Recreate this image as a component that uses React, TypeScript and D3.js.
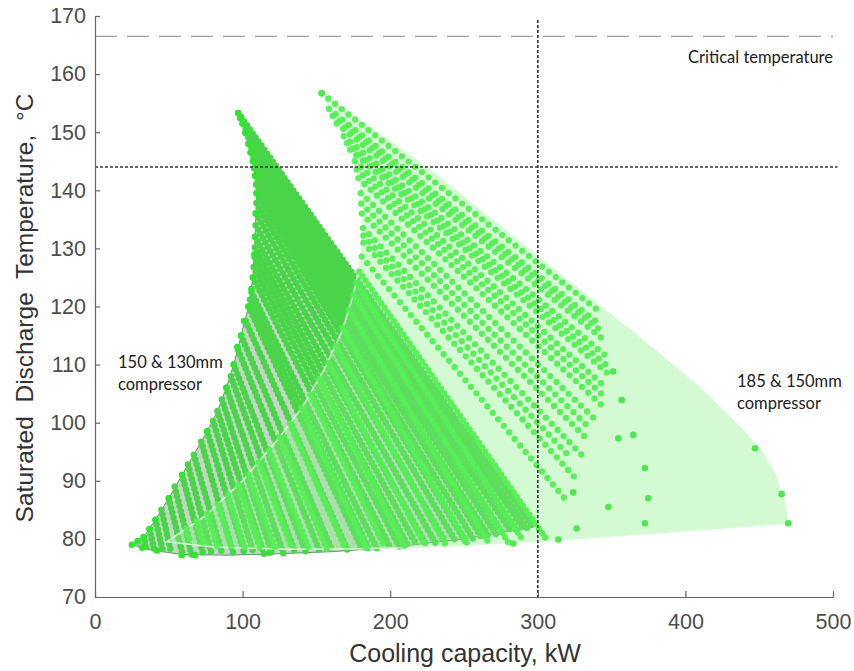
import React, { useEffect, useRef } from 'react';
import * as d3 from 'd3';

type P = [number, number];
type Seg = [number, number, number, number];

// axis ticks
const xTicks = [0, 100, 200, 300, 400, 500];
const yTicks = [70, 80, 90, 100, 110, 120, 130, 140, 150, 160, 170];

// reference lines
const criticalTemp = 166.5;
const limitTemp = 144;
const limitCapacity = 300;

// 150 & 130mm compressor envelope (capacity kW, discharge temp C)
const envelopeA: P[] = [
  [25, 79], [33, 80.3], [41, 83.3], [50, 87], [59, 91], [67, 94.5], [76, 98.5], [83, 102],
  [89, 106], [94, 110], [99, 115], [104, 120], [107, 125], [108.5, 132], [109.5, 139.5],
  [108, 144], [104, 148], [100, 151.5], [97, 153.3],
  [135, 139.8], [174, 126], [215, 111.2], [255, 97], [297, 82],
  [250, 80], [200, 78.5], [160, 77.8], [120, 77.4], [90, 77.2], [60, 77.3], [40, 78],
];

// 185 & 150mm compressor envelope
const envelopeB: P[] = [
  [48.6, 79.5], [75, 84], [100, 90], [125, 97.5], [140, 102.5], [155, 109], [167, 115.5],
  [175, 122], [180, 128], [181.5, 135], [180.7, 140], [178, 143], [172.8, 147], [163.7, 151.5],
  [153.6, 156.7],
  [227, 143.5], [300, 128.6], [371, 114.2], [410, 106], [439, 98.7], [452, 95], [461, 91],
  [467, 86.5], [469.7, 82.7],
  [380, 81], [300, 79.6], [227, 78.6], [180, 78.3], [130, 78.2], [80, 78.6],
];

// rows of operating points, 150 & 130mm: [start cap, start temp, end cap, end temp]
const stripesA: Seg[] = [
  [29, 79.6, 30, 78.8], [33, 80.3, 34.6, 78.4], [37, 81.7, 40, 78.1], [41, 83.3, 46, 77.9],
  [45, 85, 51.6, 77.7], [50, 87, 59.3, 77.4], [54, 89, 65.4, 77.3], [59, 91, 73.4, 77.3],
  [63, 92.8, 79.3, 77.2], [67, 94.5, 86.5, 77.2], [72, 96.7, 94, 77.2], [76, 98.5, 101.6, 77.2],
  [80, 100.3, 107.8, 77.3], [83, 102, 114.6, 77.3], [86, 104, 120, 77.4], [89, 106, 127.8, 77.4],
  [92, 108, 135.8, 77.5], [94, 110, 143, 77.6], [97, 112.5, 152.5, 77.7], [99, 115, 161, 77.8],
  [102, 117.5, 171.4, 77.9], [104, 120, 181, 78.1], [105, 121.2, 185.7, 78.2],
  [106, 122.5, 191, 78.3], [107, 125, 200, 78.5], [107.5, 126.8, 206.3, 78.6],
  [108, 128.5, 212, 78.8], [108.3, 130.2, 217.7, 79], [108.5, 132, 224, 79.1],
  [108.8, 134, 230.6, 79.3], [109, 136, 237.6, 79.4], [109.3, 137.8, 244.2, 79.6],
  [109.5, 139.5, 250.5, 79.7], [109.2, 141, 256.2, 80], [108.5, 142.5, 262, 80.2],
  [107.8, 143.8, 266.8, 80.4], [107, 145, 272, 80.7], [105.5, 146.5, 276.4, 80.9],
  [104, 148, 282, 81.2], [102, 149.8, 285.7, 81.4], [100, 151.5, 290.8, 81.6],
  [98.5, 152.4, 293, 81.8], [97, 153.3, 297, 82],
];

// rows of operating points, 185 & 150mm
const stripesB: Seg[] = [
  [153.6, 156.7, 342, 119.1], [158.5, 154, 342, 116.9], [161, 152.8, 343, 115.8],
  [163.7, 151.5, 345, 114.2], [168.5, 149.3, 348, 111.1], [170.7, 148.1, 349, 109.4],
  [172.8, 147, 350, 107.9], [176, 145, 345, 106.3], [177.3, 143.6, 343, 105],
  [178.4, 142.1, 345, 102.6], [180, 139.5, 340, 100.3], [180.4, 137.7, 333, 99.6],
  [180.7, 136, 335, 96.8], [181.5, 133.5, 330, 94.4], [181.7, 132.2, 322, 94],
  [181.8, 131, 325, 90.6], [180.7, 128.6, 320, 86.4],
  [179, 126, 306, 79.9], [177, 124, 290, 79.7], [175, 122, 280, 79.4], [172, 119.5, 267, 79.2],
  [168, 116.3, 252.7, 79], [163, 113.2, 237.8, 78.9], [158, 110.3, 224, 78.7],
  [152, 107.5, 210, 78.6], [146, 104.8, 196.5, 78.5], [140, 102.5, 184, 78.4],
  [132, 99.8, 169.7, 78.3], [125, 97.5, 157, 78.3], [118, 95.3, 145, 78.3],
  [111, 93.2, 133.5, 78.3], [104, 91.1, 122.3, 78.3], [97, 89.3, 111.8, 78.4],
  [90, 87.6, 101.6, 78.5], [83, 86, 92.5, 78.6], [76, 84.3, 82.6, 78.8], [69, 83, 73.5, 79],
  [62, 81.8, 64.7, 79.2],
];

// boundary points of the 150 & 130mm map
const edgeDotsA: P[] = [
  [25, 79], [29, 79.6], [33, 80.3], [37, 81.7], [41, 83.3], [50, 87], [59, 91], [76, 98.5],
  [89, 106], [94, 110], [96.5, 113], [99, 115], [101, 117.5], [104, 120], [106, 123], [107, 125],
  [108, 129], [108.5, 132], [109, 136], [109.5, 139.5], [108.5, 142.5], [107, 145], [105.5, 146.5],
  [104, 148], [102, 150], [100, 151.5], [98.5, 152.5], [97, 153.3],
  [32, 78.5], [42, 78], [58.7, 77.2], [67.8, 77.2], [118, 77.6],
];

// isolated points of the 185 & 150mm map
const scatterB: P[] = [
  [351, 108.8], [356.8, 103.9], [364.7, 97.9], [354.6, 97.3], [372.6, 92.2], [374.9, 87],
  [372.6, 82.7], [347.8, 85.5], [324, 88], [326.3, 81.8], [313.9, 79.9], [283.4, 79.2],
  [447.2, 95.6], [465.2, 87.7], [469.7, 82.7], [153.6, 156.7],
];

const App = () => {
  const ref = useRef<SVGSVGElement>(null);

  useEffect(() => {
    if (!ref.current) return;
    const svg = d3.select(ref.current);
    svg.selectAll('*').remove();

    const x = d3.scaleLinear().domain([0, 500]).range([95, 833]);
    const y = d3.scaleLinear().domain([70, 170]).range([597, 16]);
    const line = d3.line<P>().x(d => x(d[0])).y(d => y(d[1]));

    const angle = (s: Seg) =>
      (Math.atan2(Math.abs(y(s[3]) - y(s[1])), Math.abs(x(s[2]) - x(s[0]))) * 180) / Math.PI;

    const drawStripes = (segs: Seg[], color: string, width: number, gap: (s: Seg) => number, opacity: number) => {
      svg.append('g')
        .selectAll('path')
        .data(segs)
        .join('path')
        .attr('d', s => `M${x(s[0])},${y(s[1])}L${x(s[2])},${y(s[3])}`)
        .attr('fill', 'none')
        .attr('stroke', color)
        .attr('stroke-opacity', opacity)
        .attr('stroke-width', width)
        .attr('stroke-linecap', 'round')
        .attr('stroke-dasharray', s => `0 ${gap(s)}`);
    };

    // 150 & 130mm map
    svg.append('path')
      .attr('d', line(envelopeA) + 'Z')
      .attr('fill', 'rgb(110,150,110)')
      .attr('fill-opacity', 0.4)
      .attr('stroke', '#5c9c5c')
      .attr('stroke-width', 1);
    drawStripes(stripesA, '#4ad44a', 6.5, () => 5, 1);
    svg.append('g')
      .selectAll('circle')
      .data(edgeDotsA)
      .join('circle')
      .attr('cx', d => x(d[0]))
      .attr('cy', d => y(d[1]))
      .attr('r', 3.3)
      .attr('fill', '#2de62d');

    // 185 & 150mm map
    svg.append('path')
      .attr('d', line(envelopeB) + 'Z')
      .attr('fill', 'rgb(130,240,130)')
      .attr('fill-opacity', 0.35)
      .attr('stroke', 'rgb(215,250,215)')
      .attr('stroke-width', 1.5);
    drawStripes(stripesB, '#55ee55', 6.3, s => (angle(s) >= 52 ? 5.5 : 8.5), 0.95);
    svg.append('g')
      .selectAll('circle')
      .data(scatterB)
      .join('circle')
      .attr('cx', d => x(d[0]))
      .attr('cy', d => y(d[1]))
      .attr('r', 3.3)
      .attr('fill', '#4ee84e');

    // reference lines
    svg.append('line')
      .attr('x1', x(0)).attr('x2', x(500))
      .attr('y1', y(criticalTemp)).attr('y2', y(criticalTemp))
      .attr('stroke', '#a0a0a0').attr('stroke-width', 1.3)
      .attr('stroke-dasharray', '22 10');
    svg.append('line')
      .attr('x1', x(0)).attr('x2', x(503))
      .attr('y1', y(limitTemp)).attr('y2', y(limitTemp))
      .attr('stroke', '#333').attr('stroke-width', 1.6)
      .attr('stroke-dasharray', '3 2');
    svg.append('line')
      .attr('x1', x(limitCapacity)).attr('x2', x(limitCapacity))
      .attr('y1', y(169.3)).attr('y2', y(70))
      .attr('stroke', '#333').attr('stroke-width', 1.6)
      .attr('stroke-dasharray', '3 2');

    // axes
    const xAxis = d3.axisBottom(x).tickValues(xTicks).tickSizeInner(-6).tickSizeOuter(0).tickPadding(17);
    const yAxis = d3.axisLeft(y).tickValues(yTicks).tickSizeInner(-5).tickSizeOuter(0).tickPadding(9);

    const gx = svg.append('g').attr('transform', `translate(0,${y(70)})`).call(xAxis);
    const gy = svg.append('g').attr('transform', `translate(${x(0)},0)`).call(yAxis);
    [gx, gy].forEach(g => {
      g.attr('font-family', '"Liberation Sans", Arial, sans-serif').attr('font-size', 21.5);
      g.selectAll('path').attr('stroke', '#666').attr('stroke-width', 1.2);
      g.selectAll('line').attr('stroke', '#666').attr('stroke-width', 1.2);
      g.selectAll('text').attr('fill', '#4d4d4d');
    });

    // axis titles
    svg.append('text')
      .attr('x', 465).attr('y', 662)
      .attr('text-anchor', 'middle')
      .attr('font-family', '"Liberation Sans", Arial, sans-serif')
      .attr('font-size', 25)
      .attr('fill', '#333')
      .text('Cooling capacity, kW');

    svg.append('text')
      .attr('transform', 'translate(33,308) rotate(-90)')
      .attr('text-anchor', 'middle')
      .attr('font-family', '"Liberation Sans", Arial, sans-serif')
      .attr('font-size', 24.5)
      .attr('fill', '#333')
      .style('white-space', 'pre')
      .text('Saturated  Discharge  Temperature,  \u00B0C');

    // annotations
    const note = (tx: number, ty: number, s: string, anchor = 'start') =>
      svg.append('text')
        .attr('x', tx).attr('y', ty)
        .attr('text-anchor', anchor)
        .attr('font-family', 'Lato, "Open Sans", sans-serif')
        .attr('font-size', 16.5)
        .attr('fill', '#222')
        .text(s);

    note(x(500), 63, 'Critical temperature', 'end');
    note(118, 368, '150 & 130mm');
    note(118, 390, 'compressor');
    note(737, 387, '185 & 150mm');
    note(737, 409, 'compressor');
  }, []);

  return (
    <svg
      ref={ref}
      width={854}
      height={671}
      style={{ position: 'absolute', left: 0, top: 0, background: '#fff' }}
    />
  );
};

export default App;
